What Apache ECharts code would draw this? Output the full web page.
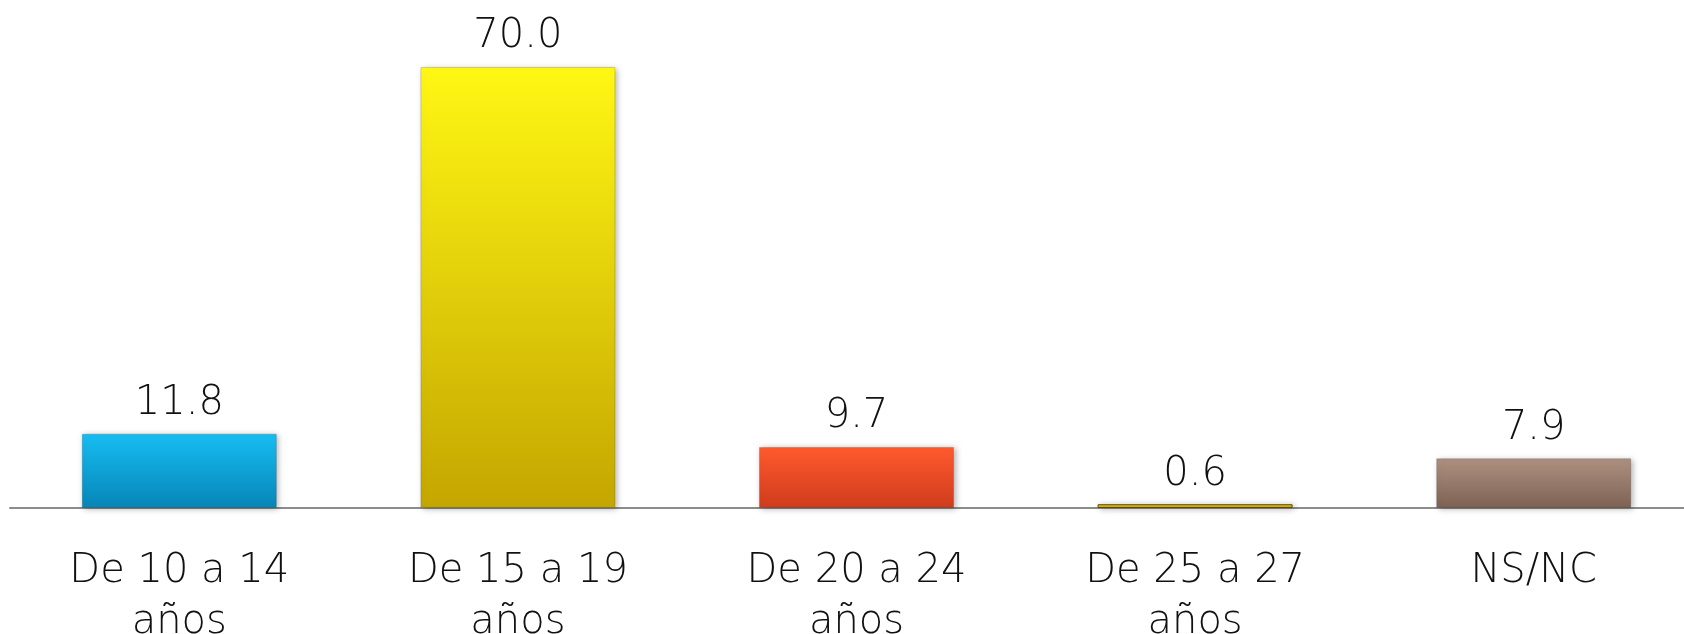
<!DOCTYPE html>
<html>
<head>
<meta charset="utf-8">
<script src="https://cdn.jsdelivr.net/npm/echarts@6/dist/echarts.min.js"></script>
<style>
  html, body { margin: 0; padding: 0; background: #fff; }
  #main { width: 1684px; height: 634px; }
</style>
</head>
<body>
<div id="main"></div>
<script>
// grupos de edad
const categories = ['De 10 a 14 años', 'De 15 a 19 años', 'De 20 a 24 años', 'De 25 a 27 años', 'NS/NC'];
const values = [11.8, 70.0, 9.7, 0.6, 7.9];
// colores de cada barra: arriba / abajo
const topColors = ['#17bdf2', '#fff714', '#ff5a2e', '#f2d000', '#ad9080'];
const bottomColors = ['#0685b8', '#c4a600', '#cf3c1c', '#d4b000', '#7d6254'];

const chart = echarts.init(document.getElementById('main'));
const font = 'DejaVu Sans';

chart.setOption({
  animation: false,
  grid: { left: 10, right: -19, top: 4, bottom: 126, containLabel: false, outerBoundsMode: 'none' },
  xAxis: {
    type: 'category',
    data: categories,
    axisLine: { lineStyle: { color: '#8c8c8c', width: 2 } },
    axisTick: { show: false },
    axisLabel: {
      interval: 0,
      margin: 38,
      color: '#111',
      fontFamily: font,
      fontWeight: 200,
      fontSize: 40,
      lineHeight: 51,
      formatter: v => v.replace(' años', '\naños')
    }
  },
  yAxis: {
    type: 'value',
    min: 0,
    max: 80,
    show: false,
    splitLine: { show: false }
  },
  series: [{
    type: 'bar',
    barCategoryGap: '42.4%',
    data: values.map((v, i) => ({
      value: v,
      itemStyle: {
        color: new echarts.graphic.LinearGradient(0, 0, 0, 1, [
          { offset: 0, color: topColors[i] },
          { offset: 1, color: bottomColors[i] }
        ]),
        borderColor: i === 3 ? '#5a4a10' : 'rgba(0,0,0,0.15)',
        borderWidth: 1,
        shadowBlur: 6,
        shadowOffsetX: 2,
        shadowOffsetY: 1,
        shadowColor: 'rgba(0,0,0,0.3)'
      }
    })),
    label: {
      show: true,
      position: 'top',
      distance: 10,
      color: '#111',
      fontFamily: font,
      fontWeight: 200,
      fontSize: 40,
      formatter: p => p.value.toFixed(1)
    }
  }]
});
</script>
</body>
</html>
